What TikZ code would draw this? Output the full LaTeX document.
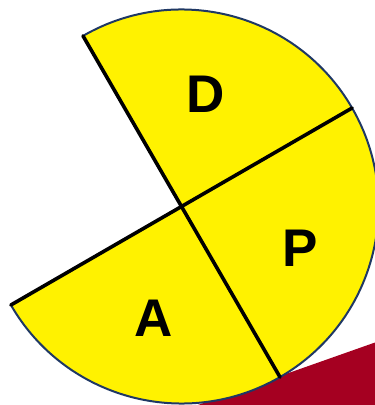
\documentclass[tikz,border=0pt]{standalone}
\usepackage{fontspec}
\setmainfont{Liberation Sans}
\definecolor{darkred}{RGB}{165,0,33}
\definecolor{rimblue}{RGB}{31,56,100}
\begin{document}
\begin{tikzpicture}[x=1pt,y=1pt,
  lbl/.style={font=\fontsize{53}{53}\selectfont\bfseries, inner sep=0pt, text=black},
  radial/.style={line width=3.6pt, black, line cap=round},
  rim/.style={draw=rimblue, line width=2pt, fill=yellow}]
\useasboundingbox (0,0) rectangle (375,405);
\fill[darkred] (198,0) -- (375,62.5) -- (375,0) -- cycle;
\coordinate (c) at (181.5,198.5);
\draw[rim] (c) -- ++(120:197) arc[start angle=120, end angle=-150, radius=197] -- cycle;
\foreach \a/\n in {120/n1,30/n2,-60/n3,-150/n4} \coordinate (\n) at ([shift={(\a:197)}]c);
\draw[radial] (c) -- (n1);
\draw[radial] (c) -- (n2);
\draw[radial] (c) -- (n3);
\draw[radial] (c) -- (n4);
\node[lbl] (d) at (206,311) {D};
\node[lbl] (p) at (300,157) {P};
\node[lbl] (a) at (154,87) {A};
\end{tikzpicture}
\end{document}
